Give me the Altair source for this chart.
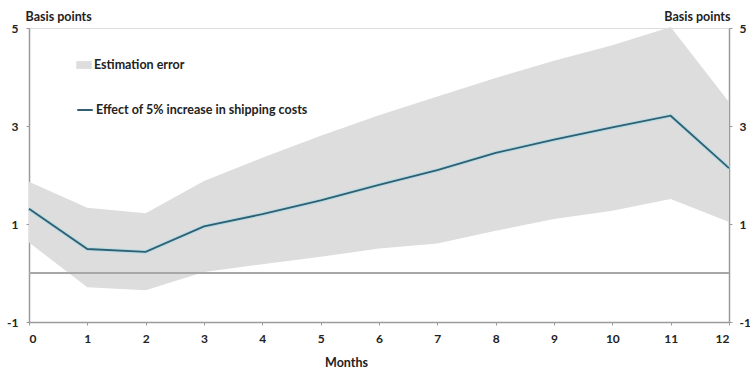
import altair as alt
import pandas as pd

months = [0, 1, 2, 3, 4, 5, 6, 7, 8, 9, 10, 11, 12]
effect = [1.31, 0.49, 0.43, 0.95, 1.20, 1.48, 1.80, 2.10, 2.45, 2.72, 2.97, 3.21, 2.14]
upper = [1.86, 1.33, 1.22, 1.88, 2.35, 2.80, 3.22, 3.60, 3.98, 4.33, 4.65, 5.02, 3.49]
lower = [0.62, -0.29, -0.35, 0.02, 0.18, 0.33, 0.50, 0.60, 0.86, 1.10, 1.27, 1.51, 1.04]
y_ticks = [-1, 1, 3, 5]
x_ticks = months

band_label = "Estimation error"
line_label = "Effect of 5% increase in shipping costs"

df = pd.DataFrame({"month": months, "effect": effect, "upper": upper, "lower": lower})
zero_df = pd.DataFrame({"zero": [0]})

FONT = "Lato"
TXT = "#222222"
AX = "#9a9a9a"
FS = 12.5
WT = "bold"

x_scale = alt.Scale(domain=[0, 12], nice=False, zero=False)
y_scale = alt.Scale(domain=[-1, 5], nice=False, zero=False)

x_axis = alt.Axis(values=x_ticks, format="d", title="Months", grid=False,
                  domainColor=AX, domainWidth=1.5, tickColor=AX, tickSize=3,
                  labelPadding=8, labelFontSize=12, labelColor=TXT, labelFont=FONT,
                  labelFontWeight=WT,
                  titleFont=FONT, titleFontSize=FS, titleFontWeight=WT, titleColor=TXT,
                  titlePadding=12, titleX=317, titleAlign="center")

left_axis = alt.Axis(values=y_ticks, title="Basis points", grid=False, orient="left",
                     labelExpr="'' + datum.value",
                     domainColor=AX, domainWidth=1.5, tickColor=AX, tickSize=3,
                     labelPadding=8, labelFontSize=12, labelColor=TXT, labelFont=FONT,
                     labelFontWeight=WT,
                     titleAngle=0, titleAlign="left", titleBaseline="bottom", titleX=-4, titleY=-5,
                     titleFont=FONT, titleFontSize=FS, titleFontWeight=WT, titleColor=TXT)

right_axis = alt.Axis(values=y_ticks, title="Basis points", grid=False, orient="right",
                      labelExpr="'' + datum.value",
                      domainColor=AX, domainWidth=1.5, tickColor=AX, tickSize=3,
                      labelPadding=7, labelFontSize=12, labelColor=TXT, labelFont=FONT,
                      labelFontWeight=WT,
                      titleAngle=0, titleAlign="right", titleBaseline="bottom", titleX=1, titleY=-5,
                      titleFont=FONT, titleFontSize=FS, titleFontWeight=WT, titleColor=TXT)

base = alt.Chart(df)
x_enc = alt.X("month:Q", scale=x_scale, axis=x_axis)

band = base.mark_area(opacity=1, interpolate="linear").encode(
    x=x_enc,
    y=alt.Y("upper:Q", scale=y_scale, axis=left_axis),
    y2="lower:Q",
    fill=alt.Fill("lbl:N", scale=alt.Scale(domain=[band_label], range=["#dddddd"]),
                  legend=alt.Legend(title=None, orient="none", legendX=47, legendY=29,
                                    symbolType="M-1,-0.5H1V0.5H-1Z", symbolSize=240,
                                    symbolStrokeWidth=0, symbolOpacity=1, labelLimit=500,
                                    labelFont=FONT, labelFontSize=FS, labelColor=TXT,
                                    labelFontWeight=WT, labelOffset=2)),
).transform_calculate(lbl=f"'{band_label}'")

zero_rule = alt.Chart(zero_df).mark_rule(color="#a8a8a8", strokeWidth=2).encode(
    y=alt.Y("zero:Q", scale=y_scale, axis=None)
)

halo = base.mark_line(color="#b9dbe6", strokeWidth=4).encode(
    x=x_enc,
    y=alt.Y("effect:Q", scale=y_scale, axis=None),
)

line = base.mark_line(strokeWidth=1.8).encode(
    x=x_enc,
    y=alt.Y("effect:Q", scale=y_scale, axis=right_axis),
    stroke=alt.Stroke("lbl2:N", scale=alt.Scale(domain=[line_label], range=["#30606f"]),
                      legend=alt.Legend(title=None, orient="none", legendX=47, legendY=73,
                                        symbolType="stroke", symbolSize=240, symbolStrokeWidth=2,
                                        labelLimit=500,
                                        labelFont=FONT, labelFontSize=FS, labelColor=TXT,
                                        labelFontWeight=WT, labelOffset=2)),
).transform_calculate(lbl2=f"'{line_label}'")

chart = alt.layer(band, zero_rule, halo, line).resolve_scale(
    y="independent"
).resolve_axis(y="independent").properties(
    width=700, height=294,
    autosize=alt.AutoSizeParams(type="none"),
    padding={"left": 29, "top": 28, "right": 21, "bottom": 54},
).configure_view(stroke=None).configure(background="white")

chart.save("out.html", embed_options={"renderer": "svg", "actions": False})
